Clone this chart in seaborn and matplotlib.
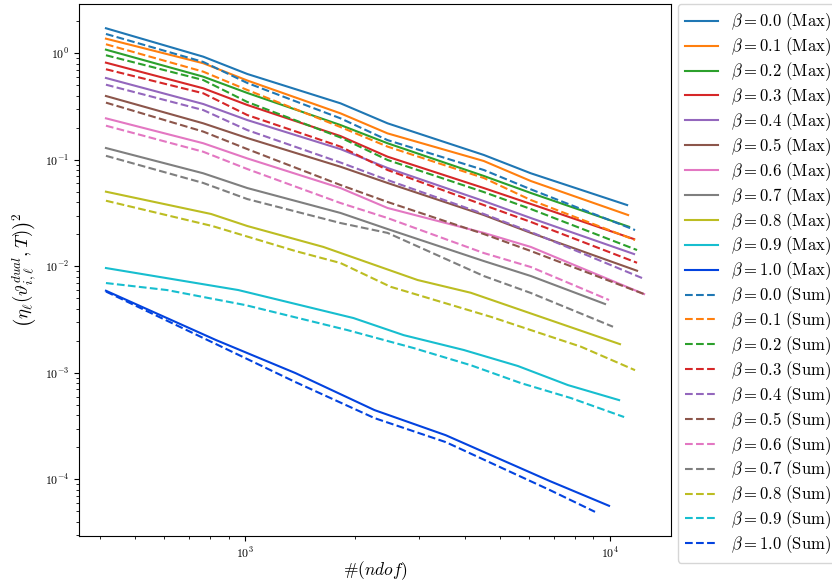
"""Adaptive refinement: squared dual error estimator vs. number of dofs."""

import matplotlib

matplotlib.use("Agg")
import matplotlib.pyplot as plt
import seaborn as sns

plt.rcParams["font.family"] = "serif"
plt.rcParams["font.serif"] = ["cmr10", "DejaVu Serif"]
plt.rcParams["mathtext.fontset"] = "cm"
plt.rcParams["axes.formatter.use_mathtext"] = True

betas = ["0.0", "0.1", "0.2", "0.3", "0.4", "0.5", "0.6", "0.7", "0.8", "0.9", "1.0"]
colors = ["#1f77b4", "#ff7f0e", "#2ca02c", "#d62728", "#9467bd", "#8c564b",
          "#e377c2", "#7f7f7f", "#bcbd22", "#17becf", "#0343df"]

# number of degrees of freedom per refinement step (Max marking)
ndof_max = [
    [415, 767, 1013, 1824, 2455, 4508, 6067, 11140],
    [415, 767, 1013, 1824, 2455, 4508, 6067, 11210],
    [415, 767, 1013, 1824, 2455, 4508, 6067, 11280],
    [415, 767, 1013, 1824, 2455, 4508, 6067, 11640],
    [415, 767, 1013, 1824, 2455, 4508, 6067, 11640],
    [415, 767, 1013, 1824, 2455, 4508, 6067, 11860],
    [415, 767, 1013, 1824, 2455, 4508, 6067, 12400],
    [415, 767, 1013, 1824, 2455, 4508, 6067, 9690],
    [415, 806, 1013, 1638, 2968, 4151, 5695, 10650],
    [415, 957, 1980, 2718, 3971, 5589, 7665, 10590],
    [415, 832, 1372, 2262, 3544, 6842, 9938],
]
eta_max = [
    [1.717, 0.929, 0.639, 0.339, 0.220, 0.111, 0.0747, 0.0376],
    [1.371, 0.806, 0.555, 0.273, 0.177, 0.0974, 0.0632, 0.0303],
    [1.081, 0.603, 0.424, 0.212, 0.143, 0.0705, 0.0488, 0.0235],
    [0.816, 0.469, 0.327, 0.167, 0.107, 0.0543, 0.0385, 0.0180],
    [0.586, 0.334, 0.236, 0.126, 0.0838, 0.0410, 0.0284, 0.01304],
    [0.397, 0.220, 0.160, 0.0861, 0.0606, 0.0303, 0.0206, 0.00909],
    [0.245, 0.143, 0.103, 0.0543, 0.0353, 0.0206, 0.0152, 0.00549],
    [0.129, 0.0747, 0.0543, 0.0317, 0.0224, 0.01121, 0.00811, 0.00443],
    [0.0502, 0.0310, 0.0239, 0.0152, 0.00744, 0.00565, 0.00389, 0.00186],
    [0.00964, 0.00599, 0.00327, 0.00226, 0.00164, 0.00116, 0.000768, 0.000555],
    [0.00590, 0.00203, 0.000996, 0.000447, 0.000260, 0.0000964, 0.0000565],
]

# number of degrees of freedom per refinement step (Sum marking)
ndof_sum = [
    [415, 767, 1013, 1824, 2455, 4508, 6067, 11710],
    [415, 767, 1013, 1824, 2455, 4508, 6067, 11710],
    [415, 767, 1013, 1824, 2455, 4508, 6067, 11860],
    [415, 767, 1013, 1824, 2455, 4508, 6067, 11860],
    [415, 767, 1013, 1824, 2455, 4508, 6067, 12240],
    [415, 767, 1013, 1824, 2455, 4508, 6067, 12400],
    [415, 767, 1013, 1824, 2455, 4508, 6067, 9938],
    [415, 767, 1013, 1824, 2455, 4508, 6067, 10190],
    [415, 812, 1372, 1824, 2502, 4711, 8324, 11710],
    [415, 610, 1000, 1906, 2894, 4151, 5695, 7813, 10930],
    [415, 832, 1372, 2262, 3544, 6842, 9096],
]
eta_sum = [
    [1.518, 0.829, 0.526, 0.245, 0.153, 0.0802, 0.0528, 0.0219],
    [1.215, 0.672, 0.452, 0.203, 0.133, 0.0675, 0.0419, 0.01765],
    [0.958, 0.561, 0.349, 0.162, 0.0996, 0.0498, 0.0345, 0.01422],
    [0.708, 0.421, 0.263, 0.133, 0.0802, 0.0376, 0.0261, 0.0108],
    [0.507, 0.293, 0.190, 0.0943, 0.0646, 0.0310, 0.0210, 0.00777],
    [0.344, 0.184, 0.126, 0.0580, 0.0402, 0.0201, 0.01392, 0.00549],
    [0.209, 0.119, 0.0819, 0.0393, 0.0284, 0.01333, 0.00985, 0.00483],
    [0.109, 0.0606, 0.0428, 0.0255, 0.0206, 0.00811, 0.00562, 0.00271],
    [0.0413, 0.0239, 0.01392, 0.01074, 0.00643, 0.00336, 0.00176, 0.00106],
    [0.00697, 0.00599, 0.00433, 0.00252, 0.00171, 0.00118, 0.000802, 0.000580, 0.000385],
    [0.00580, 0.00186, 0.000820, 0.000376, 0.000224, 0.0000794, 0.0000496],
]

fig, ax = plt.subplots(figsize=(8.32, 5.82), dpi=100)
fig.subplots_adjust(left=0.095, right=0.8065, top=0.993, bottom=0.079)

for b, c, x, y in zip(betas, colors, ndof_max, eta_max):
    sns.lineplot(x=x, y=y, ax=ax, color=c, linewidth=1.5, estimator=None, sort=False,
                 label=rf"$\beta = {b}\ \mathrm{{(Max)}}$")
for b, c, x, y in zip(betas, colors, ndof_sum, eta_sum):
    sns.lineplot(x=x, y=y, ax=ax, color=c, linewidth=1.5, linestyle="--", estimator=None,
                 sort=False, label=rf"$\beta = {b}\ \mathrm{{(Sum)}}$")

ax.set_xscale("log")
ax.set_yscale("log")
ax.tick_params(which="both", labelsize=8.5)
ax.set_xlabel(r"$\#(ndof)$", fontsize=12.5, labelpad=-1)
ax.set_ylabel(r"$\left(\eta_\ell(\vartheta^{dual}_{i,\ell}, T)\right)^2$", fontsize=13.5)

ax.legend(loc="upper left", bbox_to_anchor=(1.012, 1.0), borderaxespad=0,
          fontsize=12, labelspacing=0.13)

plt.savefig("out.png", dpi=100)
